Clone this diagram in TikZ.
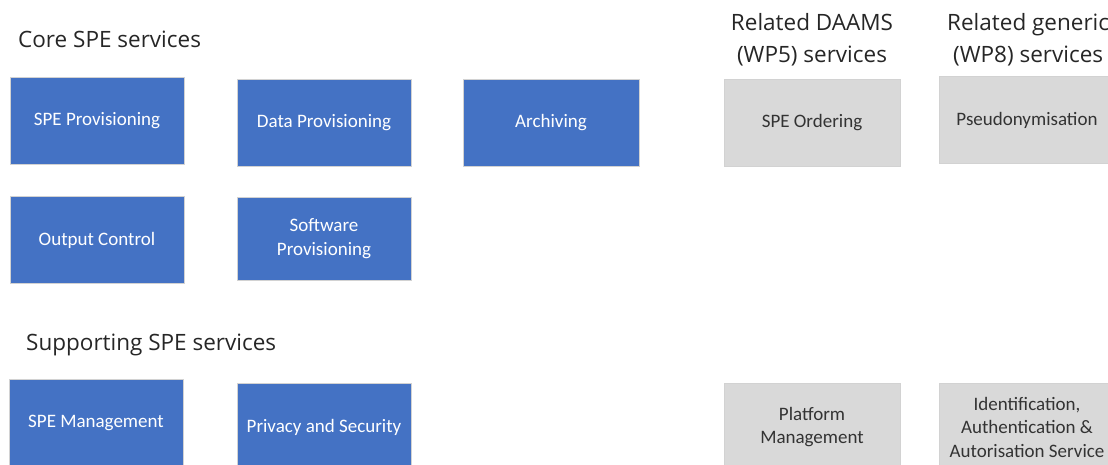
\documentclass[tikz,border=0pt]{standalone}
\usepackage{fontspec}
\setmainfont{Carlito}
\newfontfamily\headfont{Open Sans}
\definecolor{coreBlue}{RGB}{68, 114, 196}
\definecolor{relGrey}{RGB}{217, 217, 217}
\tikzset{
    core/.style={draw=gray!35, line width=0.8pt, fill=coreBlue, text=white,
        minimum width=174pt, minimum height=87pt, inner sep=0pt,
        align=center, font=\fontsize{19}{23.5}\selectfont},
    related/.style={core, fill=relGrey, text=black!80, minimum width=176pt},
    heading/.style={font=\headfont\fontsize{22.5}{32}\selectfont, align=center,
        text=black!85, inner sep=0pt}
}

\begin{document}
\begin{tikzpicture}[x=1pt, y=-1pt]
    \useasboundingbox (0,0) rectangle (1108,465);
    \clip (0,0) rectangle (1108,465);
    % group titles
    \node[heading, anchor=west] (coreTitle) at (18,39) {Core SPE services};
    \node[heading, anchor=west] (suppTitle) at (26,345) {Supporting SPE services};
    \node[heading] (daamsTitle) at (812,39.5) {Related DAAMS\\(WP5) services};
    \node[heading, anchor=west] (genTitle) at (947,39.5) {Related generic\\(WP8) services};
    % core services
    \node[core] (speProv) at (97,120.5) {SPE Provisioning};
    \node[core] (dataProv) at (324,123) {Data Provisioning};
    \node[core, minimum width=176pt] (archiving) at (551,123) {Archiving};
    \node[core] (outCtrl) at (97,240) {Output Control};
    \node[core, minimum height=83pt] (softProv) at (324,238.5) {Software\\Provisioning};
    % supporting services
    \node[core] (speMgmt) at (96,423) {SPE Management};
    \node[core] (privSec) at (324,427) {Privacy and Security};
    % related services
    \node[related] (speOrder) at (812,123) {SPE Ordering};
    \node[related] (pseudo) at (1027,120) {Pseudonymisation};
    \node[related] (platMgmt) at (812,427) {Platform\\Management};
    \node[related] (idAuth) at (1027,427) {Identification,\\Authentication \&\\Autorisation Service};
\end{tikzpicture}
\end{document}
